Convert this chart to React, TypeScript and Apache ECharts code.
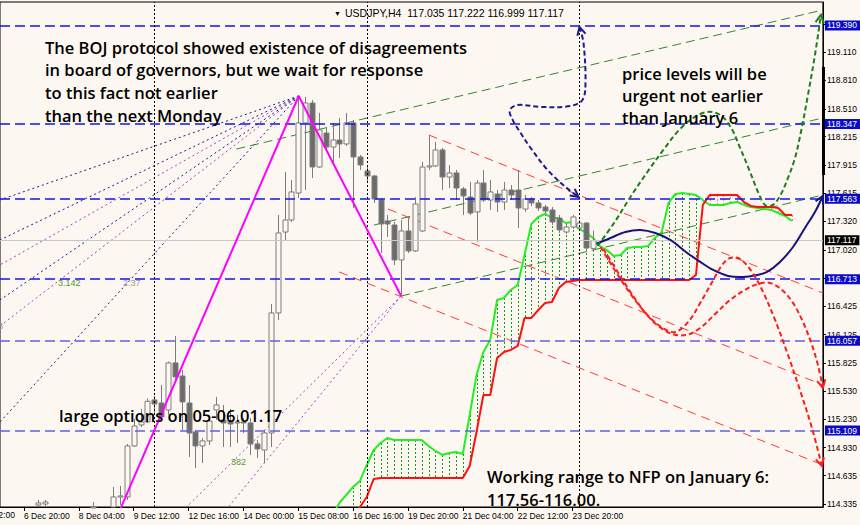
import { useEffect, useRef } from "react";
import * as echarts from "echarts";

// ---------- axes ----------
const X_MIN = -3.491;
const X_MAX = 116.51;
const Y_MIN = 114.303;
const Y_MAX = 119.638;

const xTickBars = [0, 8, 16, 24, 32, 40, 48, 56, 64, 72, 80];
const xTickLabels = ["6 Dec 20:00", "8 Dec 04:00", "9 Dec 12:00", "12 Dec 16:00", "14 Dec 00:00", "15 Dec 08:00", "16 Dec 16:00", "19 Dec 20:00", "21 Dec 04:00", "22 Dec 12:00", "23 Dec 20:00"];
const xCutLabelBar = -8;
const xCutLabel = "5 Dec 12:00";
const yTickValues = [114.335, 114.635, 114.93, 115.23, 115.53, 115.825, 116.125, 116.425, 116.72, 117.02, 117.32, 117.615, 117.915, 118.215, 118.51, 118.81, 119.11, 119.405];
const yLabelValues = [114.335, 114.635, 114.93, 115.23, 115.53, 115.825, 116.125, 116.425, 117.02, 117.32, 117.615, 117.915, 118.215, 118.51, 118.81, 119.11];

// ---------- candles (H4 USDJPY) ----------
const candleBar = [2, 3, 10, 13, 14, 15, 16, 17, 18, 19, 20, 21, 22, 23, 24, 25, 26, 27, 28, 29, 30, 31, 32, 33, 34, 35, 36, 37, 38, 39, 40, 41, 42, 43, 44, 45, 46, 47, 48, 49, 50, 51, 52, 53, 54, 55, 56, 57, 58, 59, 60, 61, 62, 63, 64, 65, 66, 67, 68, 69, 70, 71, 72, 73, 74, 75, 76, 77, 78, 79, 80, 81, 82, 83];
const candleOpen = [114.324, 114.335, 114.15, 114.25, 114.409, 114.409, 114.948, 115.17, 115.201, 115.434, 115.402, 115.328, 115.825, 115.687, 115.402, 115.096, 114.948, 115.001, 115.328, 115.222, 115.212, 115.191, 115.201, 115.191, 114.969, 114.905, 115.085, 116.353, 117.208, 117.335, 117.62, 118.36, 118.571, 117.895, 118.254, 118.106, 118.18, 118.138, 118.36, 118.001, 117.853, 117.8, 117.546, 117.325, 117.282, 116.913, 117.219, 117.008, 117.219, 117.895, 117.906, 118.075, 117.789, 117.832, 117.663, 117.578, 117.42, 117.726, 117.546, 117.61, 117.525, 117.652, 117.652, 117.451, 117.557, 117.515, 117.472, 117.441, 117.356, 117.208, 117.261, 117.251, 117.303, 117.035];
const candleHigh = [114.377, 114.377, 114.356, 114.515, 114.525, 114.969, 115.233, 115.339, 115.45, 115.476, 115.592, 115.84, 116.11, 115.751, 115.592, 115.117, 115.032, 115.265, 115.465, 115.381, 115.339, 115.275, 115.244, 115.244, 115.011, 115.117, 116.448, 117.388, 117.842, 117.758, 118.645, 118.635, 118.603, 118.466, 118.307, 118.36, 118.413, 118.466, 118.392, 118.022, 117.895, 117.81, 117.568, 117.388, 117.314, 117.335, 117.356, 117.578, 117.948, 118.233, 118.159, 118.096, 117.916, 117.863, 117.684, 117.737, 117.758, 117.863, 117.758, 117.652, 117.737, 117.705, 117.863, 117.599, 117.578, 117.546, 117.494, 117.472, 117.388, 117.282, 117.388, 117.335, 117.314, 117.222];
const candleLow = [114.28, 114.29, 114.05, 114.2, 114.324, 114.377, 114.937, 115.148, 115.19, 115.275, 115.222, 115.275, 115.645, 115.117, 114.832, 114.715, 114.768, 114.958, 115.222, 114.937, 114.937, 114.979, 115.085, 114.853, 114.821, 114.768, 114.937, 116.279, 117.124, 117.314, 117.568, 117.652, 117.779, 117.885, 118.075, 117.937, 117.99, 118.117, 117.462, 117.863, 117.737, 117.515, 116.987, 117.156, 116.86, 116.543, 116.987, 116.997, 117.208, 117.863, 117.895, 117.652, 117.673, 117.546, 117.388, 117.388, 117.103, 117.525, 117.441, 117.42, 117.441, 117.546, 117.251, 117.42, 117.483, 117.43, 117.399, 117.282, 117.198, 117.187, 117.24, 117.23, 116.997, 116.999];
const candleClose = [114.346, 114.356, 114.25, 114.409, 114.42, 114.948, 115.159, 115.201, 115.42, 115.391, 115.254, 115.825, 115.677, 115.413, 115.085, 114.948, 115.001, 115.212, 115.381, 115.191, 115.18, 115.201, 115.191, 114.969, 114.916, 115.085, 116.353, 117.198, 117.335, 117.631, 118.36, 118.571, 117.895, 118.286, 118.106, 118.18, 118.138, 118.36, 118.001, 117.916, 117.8, 117.557, 117.293, 117.293, 116.913, 117.219, 117.008, 117.504, 117.895, 117.906, 118.075, 117.789, 117.832, 117.673, 117.589, 117.409, 117.726, 117.546, 117.631, 117.525, 117.652, 117.599, 117.462, 117.557, 117.515, 117.462, 117.43, 117.314, 117.23, 117.261, 117.367, 117.303, 117.039, 117.117];

// ---------- Ichimoku cloud (bars 45..112) ----------
const kumoFirstBar = 45;
const spanA = [114.219, 114.346, 114.43, 114.515, 114.578, 114.747, 114.905, 114.979, 115.032, 115.011, 115.011, 115.011, 115.011, 115.011, 114.948, 114.895, 114.853, 114.874, 114.884, 114.863, 115.275, 115.698, 115.941, 116.068, 116.49, 116.511, 116.596, 116.649, 116.965, 117.293, 117.367, 117.399, 117.356, 117.356, 117.303, 117.314, 117.24, 117.198, 117.145, 117.06, 117.018, 116.955, 116.965, 117.039, 117.05, 117.05, 117.06, 117.145, 117.208, 117.515, 117.61, 117.62, 117.61, 117.599, 117.546, 117.494, 117.494, 117.494, 117.515, 117.525, 117.494, 117.472, 117.462, 117.451, 117.441, 117.409, 117.377, 117.325];
const spanB = [null, null, null, 114.219, 114.303, 114.409, 114.599, 114.61, 114.61, 114.61, 114.61, 114.61, 114.61, 114.61, 114.61, 114.61, 114.61, 114.61, 114.61, 114.61, 114.736, 115.096, 115.486, 115.486, 115.877, 115.941, 115.962, 116.004, 116.3, 116.3, 116.384, 116.458, 116.469, 116.617, 116.68, 116.691, 116.701, 116.701, 116.701, 116.701, 116.701, 116.701, 116.701, 116.701, 116.701, 116.701, 116.701, 116.701, 116.701, 116.701, 116.701, 116.701, 116.701, 116.754, 117.494, 117.599, 117.599, 117.599, 117.599, 117.599, 117.525, 117.483, 117.472, 117.472, 117.472, 117.462, 117.388, 117.388];

// ---------- levels ----------
const levelsStrong = [119.39, 118.347, 117.563, 116.713];
const levelsSoft = [116.057, 115.109];
const bidPrice = 117.117;
const weekSeparators = [19, 50, 81];

// ---------- zigzag / trend lines ----------
const zigzag = [[12, 113.936], [40.07, 118.645], [55, 116.532]];
const greenChannel = [
  [[30.98, 118.085], [116.51, 119.554]],
  [[51.05, 117.282], [116.51, 118.413]],
  [[55, 116.532], [116.51, 117.599]],
];
const redChannel = [
  [[59.05, 118.233], [116.51, 116.564]],
  [[53.09, 117.451], [116.51, 115.592]],
  [[45.96, 116.786], [116.51, 114.747]],
];
const fanTop = [40.07, 118.645];
const fanTopNavyEnds = [[-3.491, 117.547], [-3.491, 117.124], [-3.491, 116.49], [-3.491, 115.201]];
const fanTopPurpleEnds = [[-3.491, 116.86], [-3.491, 116.215]];
const fanLow = [55, 116.532];
const fanLowEnds = [[23.71, 114.303], [29.82, 114.303]];

// ---------- forecast paths ----------
const navyArrowPts = [[81.02, 119.374], [81.6, 119.205], [81.89, 118.783], [81.45, 118.603], [79.71, 118.54], [75.35, 118.529], [72.0, 118.55], [70.84, 118.497], [71.27, 118.392], [72.15, 118.286], [73.89, 118.096], [76.36, 117.863], [78.98, 117.684], [80.87, 117.578]];
const navyCurvePts = [[83.49, 117.082], [85.53, 117.145], [87.71, 117.208], [89.89, 117.23], [92.07, 117.198], [94.25, 117.124], [96.73, 116.987], [98.62, 116.892], [100.51, 116.807], [102.69, 116.744], [104.87, 116.733], [106.91, 116.754], [108.36, 116.786], [110.25, 116.892], [112.15, 117.05], [113.89, 117.251], [115.35, 117.42], [116.51, 117.589]];
const greenCurvePts = [[83.64, 117.06], [85.96, 117.293], [88.44, 117.578], [90.91, 117.842], [93.24, 118.075], [95.42, 118.276], [97.6, 118.413], [99.64, 118.476], [101.53, 118.445], [103.13, 118.307], [104.44, 118.096], [105.89, 117.842], [107.05, 117.631], [108.07, 117.494], [109.24, 117.494], [110.4, 117.61], [111.42, 117.779], [112.44, 117.99], [113.31, 118.265], [114.33, 118.656], [115.35, 119.078], [116.22, 119.501]];
const redCurveAPts = [[84.07, 117.05], [85.96, 116.828], [87.85, 116.617], [89.89, 116.416], [91.64, 116.279], [93.38, 116.184], [94.98, 116.152], [96.87, 116.258], [98.62, 116.459], [100.36, 116.68], [101.82, 116.86], [102.98, 116.934], [104.44, 116.923], [106.18, 116.786], [107.78, 116.575], [109.53, 116.279], [111.42, 115.909], [113.16, 115.539], [114.91, 115.138], [116.36, 114.736]];
const redCurveBPts = [[84.51, 117.029], [86.4, 116.807], [88.44, 116.575], [90.62, 116.353], [92.51, 116.215], [94.55, 116.131], [96.58, 116.12], [98.62, 116.194], [100.8, 116.342], [102.98, 116.49], [105.16, 116.596], [107.05, 116.659], [108.8, 116.67], [110.55, 116.596], [112.15, 116.459], [113.6, 116.258], [114.91, 116.015], [115.78, 115.803], [116.51, 115.56]];

// ---------- texts ----------
const noteBOJ = ["The BOJ protocol showed existence of disagreements", "in board of governors, but we wait for response", "to this fact not earlier", "than the next Monday"];
const notePrice = ["price levels will be", "urgent not earlier", "than January 6"];
const noteOptions = "large options on 05-06.01.17";
const noteRange = ["Working range to NFP on January 6:", "117.56-116.00."];
const headerText = "USDJPY,H4  117.035 117.222 116.999 117.117";
const fanLabels = [
  { text: "3.142", x: 58, y: 283, color: "#4f9a3a" },
  { text: "2.37", x: 123, y: 283, color: "#9a9a9a" },
  { text: "382", x: 231, y: 462, color: "#4f9a3a" },
  { text: "3", x: -2, y: 326, color: "#9a9a9a" },
];

const BG = "#fdf7f1";
const NOTE_FONT = "600 16.5px 'Comic Sans MS', 'Open Sans', sans-serif";
const AXIS_FONT = "'Liberation Sans', Arial, sans-serif";
const AXIS_SIZE = 8.5;

const pathStyles = [
  { pts: navyArrowPts, color: "#1c1c8c", width: 2, dash: [5, 3], startArrow: true, endArrow: true },
  { pts: navyCurvePts, color: "#14147c", width: 2, dash: null, startArrow: false, endArrow: true },
  { pts: greenCurvePts, color: "#1f7d1f", width: 2, dash: [5, 3], startArrow: false, endArrow: true },
  { pts: redCurveAPts, color: "#ff1c1c", width: 2, dash: [5, 3], startArrow: false, endArrow: true },
  { pts: redCurveBPts, color: "#ff1c1c", width: 2, dash: [5, 3], startArrow: false, endArrow: true },
];

function chevron(tip: number[], from: number[], color: string) {
  const dx = tip[0] - from[0];
  const dy = tip[1] - from[1];
  const len = Math.hypot(dx, dy) || 1;
  const ux = dx / len, uy = dy / len;
  const a = (28 * Math.PI) / 180;
  const s = 9;
  const rot = (ang: number) => [
    tip[0] - s * (ux * Math.cos(ang) - uy * Math.sin(ang)),
    tip[1] - s * (ux * Math.sin(ang) + uy * Math.cos(ang)),
  ];
  return {
    type: "polyline",
    shape: { points: [rot(a), tip, rot(-a)] },
    style: { stroke: color, lineWidth: 2, fill: null },
  };
}

function lineSeries(pts: number[][], color: string, width: number, type: any, z = 3) {
  return {
    type: "line",
    data: pts,
    symbol: "none",
    silent: true,
    z,
    lineStyle: { color, width, type },
  };
}

export default function App() {
  const ref = useRef<HTMLDivElement>(null);

  useEffect(() => {
    if (!ref.current) return;
    const chart = echarts.init(ref.current, undefined, { renderer: "svg" });

    const candleData = candleBar.map((n, i) => [n, candleOpen[i], candleHigh[i], candleLow[i], candleClose[i]]);
    const aLine = spanA.map((v, i) => [kumoFirstBar + i, v]);
    const bLine = spanB.map((v, i) => [kumoFirstBar + i, v]).filter((d) => d[1] != null);
    const hatchData = spanA.map((v, i) => [kumoFirstBar + i, v, spanB[i]]).filter((d) => d[2] != null);

    const boxLabel = (v: number, bg: string) => ({
      show: true,
      position: "end",
      distance: 2,
      formatter: v.toFixed(3),
      color: "#fff",
      backgroundColor: bg,
      padding: [1, 3, 0, 2],
      fontSize: 8.5,
      fontFamily: AXIS_FONT,
    });

    const markLineData: any[] = [];
    levelsStrong.forEach((v) =>
      markLineData.push({ yAxis: v, lineStyle: { color: "#1414ee", width: 1.6, type: [10, 5] }, label: boxLabel(v, "#0a0ac8") })
    );
    levelsSoft.forEach((v) =>
      markLineData.push({ yAxis: v, lineStyle: { color: "#6262e0", width: 1.6, type: [10, 5] }, label: boxLabel(v, "#0a0ac8") })
    );
    markLineData.push({ yAxis: bidPrice, lineStyle: { color: "#c8c8c8", width: 1, type: "solid" }, label: boxLabel(bidPrice, "#000") });
    weekSeparators.forEach((n) =>
      markLineData.push({ xAxis: n, lineStyle: { color: "#000", width: 1, type: [2, 2] }, label: { show: false } })
    );

    const series: any[] = [];

    // cloud hatching
    series.push({
      type: "custom",
      silent: true,
      z: 1,
      data: hatchData,
      encode: { x: 0, y: [1, 2] },
      renderItem: (params: any, api: any) => {
        const cs = params.coordSys;
        const n = api.value(0);
        const a = api.value(1);
        const b = api.value(2);
        const pa = api.coord([n, a]);
        const pb = api.coord([n, b]);
        const bottom = cs.y + cs.height;
        const y1 = Math.min(pa[1], bottom);
        const y2 = Math.min(pb[1], bottom);
        const x = Math.round(pa[0]) + 0.5;
        return {
          type: "line",
          shape: { x1: x, y1, x2: x, y2 },
          style: { stroke: a >= b ? "#139a13" : "#ff7070", lineWidth: 1, lineDash: [2, 2] },
        };
      },
    });

    // fans
    fanTopNavyEnds.forEach((e) => series.push(lineSeries([fanTop, e], "#1a1a90", 1, [2, 3], 2)));
    fanTopPurpleEnds.forEach((e) => series.push(lineSeries([fanTop, e], "#a040c8", 1, [2, 3], 2)));
    fanLowEnds.forEach((e) => series.push(lineSeries([fanLow, e], "#a040c8", 1, [2, 3], 2)));

    // channels
    greenChannel.forEach((l) => series.push(lineSeries(l, "#2c8a2c", 1, [9, 5], 2)));
    redChannel.forEach((l) => series.push(lineSeries(l, "#ff3a3a", 1, [9, 6], 2)));

    // ichimoku spans
    series.push(lineSeries(aLine, "#22ee22", 2, "solid", 3));
    series.push(lineSeries(bLine, "#ff1010", 2, "solid", 3));

    // candles
    series.push({
      type: "custom",
      silent: true,
      z: 4,
      data: candleData,
      encode: { x: 0, y: [1, 2, 3, 4] },
      renderItem: (params: any, api: any) => {
        const cs = params.coordSys;
        const top = cs.y;
        const bottom = cs.y + cs.height;
        const n = api.value(0);
        const o = api.value(1);
        const h = api.value(2);
        const l = api.value(3);
        const c = api.value(4);
        const px = api.coord([n, o])[0];
        const clamp = (y: number) => Math.max(top, Math.min(bottom, y));
        const yo = clamp(api.coord([n, o])[1]);
        const yc = clamp(api.coord([n, c])[1]);
        const yh = clamp(api.coord([n, h])[1]);
        const yl = clamp(api.coord([n, l])[1]);
        const bull = c >= o;
        const bt = Math.min(yo, yc);
        const bb = Math.max(yo, yc);
        const x = Math.round(px) + 0.5;
        return {
          type: "group",
          children: [
            { type: "line", shape: { x1: x, y1: yh, x2: x, y2: yl }, style: { stroke: "#7c7c7c", lineWidth: 1 } },
            {
              type: "rect",
              shape: { x: x - 2.5, y: bt, width: 5, height: Math.max(bb - bt, 1) },
              style: { fill: bull ? BG : "#6c6c6c", stroke: "#7c7c7c", lineWidth: 1 },
            },
          ],
        };
      },
    });

    // magenta zigzag + mark lines
    series.push({
      ...lineSeries(zigzag, "#ff00ff", 2, "solid", 5),
      markLine: { symbol: ["none", "none"], silent: true, animation: false, data: markLineData },
    });

    // forecast paths
    series.push({
      type: "custom",
      silent: true,
      z: 6,
      data: pathStyles.map((p, i) => [p.pts[0][0], p.pts[0][1], i]),
      encode: { x: 0, y: 1 },
      renderItem: (params: any, api: any) => {
        const p = pathStyles[api.value(2)];
        const pix = p.pts.map((pt) => api.coord(pt));
        const children: any[] = [
          {
            type: "polyline",
            shape: { points: pix, smooth: 0.35 },
            style: { stroke: p.color, lineWidth: p.width, lineDash: p.dash || undefined, fill: null },
          },
        ];
        if (p.endArrow) children.push(chevron(pix[pix.length - 1], pix[pix.length - 2], p.color));
        if (p.startArrow) children.push(chevron(pix[0], pix[1], p.color));
        return { type: "group", children };
      },
    });

    const graphics: any[] = [];
    noteBOJ.forEach((t, i) => graphics.push({ type: "text", x: 45, y: 47 + i * 22.7, style: { text: t, font: NOTE_FONT, fill: "#000", verticalAlign: "middle" }, z: 20 }));
    notePrice.forEach((t, i) => graphics.push({ type: "text", x: 622, y: 73 + i * 22, style: { text: t, font: NOTE_FONT, fill: "#000", verticalAlign: "middle" }, z: 20 }));
    graphics.push({ type: "text", x: 59, y: 415, style: { text: noteOptions, font: NOTE_FONT, fill: "#000", verticalAlign: "middle" }, z: 20 });
    noteRange.forEach((t, i) => graphics.push({ type: "text", x: 487, y: 476 + i * 23, style: { text: t, font: NOTE_FONT, fill: "#000", verticalAlign: "middle" }, z: 20 }));
    graphics.push({ type: "text", x: 334, y: 13, style: { text: "▼", font: `7px ${AXIS_FONT}`, fill: "#000", verticalAlign: "middle" }, z: 20 });
    graphics.push({ type: "text", x: 345, y: 13, style: { text: headerText, font: `10.5px ${AXIS_FONT}`, fill: "#000", verticalAlign: "middle" }, z: 20 });
    fanLabels.forEach((f) => graphics.push({ type: "text", x: f.x, y: f.y, style: { text: f.text, font: `9px ${AXIS_FONT}`, fill: f.color, verticalAlign: "middle" }, z: 20 }));
    graphics.push({ type: "rect", shape: { x: 822, y: 67, width: 3, height: 108 }, style: { fill: "#000" }, z: 20 });

    chart.setOption({
      animation: false,
      backgroundColor: BG,
      grid: { left: -2, right: 37, top: 2, bottom: 18, show: true, borderColor: "#000", borderWidth: 1, backgroundColor: "transparent" },
      xAxis: {
        type: "value",
        min: X_MIN,
        max: X_MAX,
        splitLine: { show: false },
        axisLine: { show: true, onZero: false, lineStyle: { color: "#000" } },
        axisTick: { show: true, customValues: xTickBars, length: 4, lineStyle: { color: "#000" } },
        axisLabel: {
          customValues: xTickBars,
          formatter: (v: number) => xTickLabels[xTickBars.indexOf(Math.round(v))] ?? "",
          align: "left",
          margin: 4,
          color: "#000",
          fontSize: AXIS_SIZE,
          fontFamily: AXIS_FONT,
        },
      },
      yAxis: {
        type: "value",
        position: "right",
        min: Y_MIN,
        max: Y_MAX,
        scale: true,
        splitLine: { show: false },
        axisLine: { show: true, onZero: false, lineStyle: { color: "#000" } },
        axisTick: { show: true, customValues: yTickValues, length: 3, lineStyle: { color: "#000" } },
        axisLabel: {
          customValues: yLabelValues,
          formatter: (v: number) => v.toFixed(3),
          margin: 4,
          color: "#000",
          fontSize: AXIS_SIZE,
          fontFamily: AXIS_FONT,
        },
      },
      series,
      graphic: graphics,
    });

    const cutX = chart.convertToPixel({ xAxisIndex: 0 }, xCutLabelBar) as number;
    chart.setOption({
      graphic: [
        ...graphics,
        { type: "text", x: cutX, y: 515, style: { text: xCutLabel, font: `${AXIS_SIZE}px ${AXIS_FONT}`, fill: "#000", verticalAlign: "middle" }, z: 20 },
      ],
    });

    return () => chart.dispose();
  }, []);

  return <div ref={ref} style={{ position: "fixed", left: 0, top: 0, width: 860, height: 525, background: BG }} />;
}
